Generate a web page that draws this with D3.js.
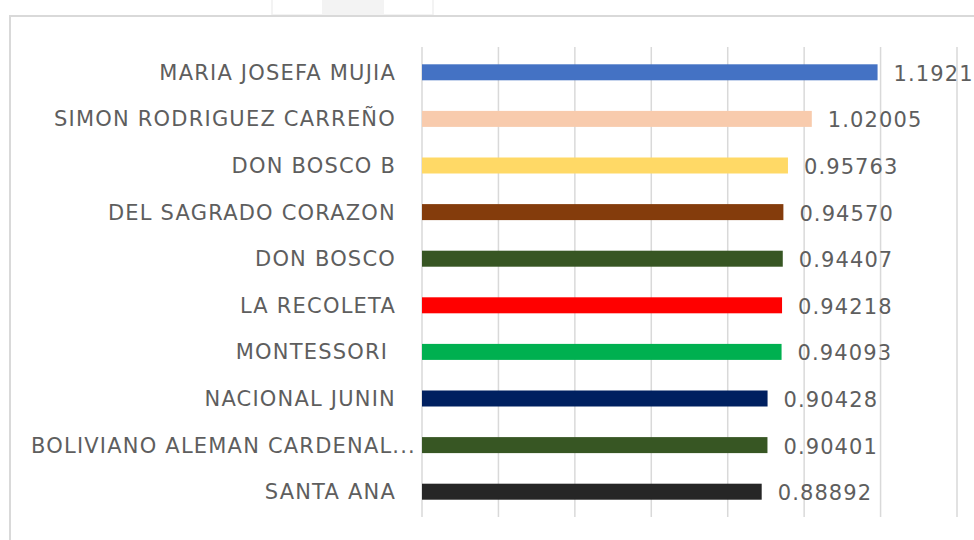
<!DOCTYPE html>
<html>
<head>
<meta charset="utf-8">
<script src="https://cdn.jsdelivr.net/npm/d3@7/dist/d3.min.js"></script>
<style>
  html, body { margin: 0; padding: 0; background: #fff; }
  svg { display: block; }
  text { font-family: "DejaVu Sans", "Liberation Sans", sans-serif; white-space: pre; }
</style>
</head>
<body>
<div class="js-chart"></div>
<script>
const WIDTH = 974;
const HEIGHT = 540;
const BAR_HEIGHT = 16;

// data
const schools = [
    "MARIA JOSEFA MUJIA",
    "SIMON RODRIGUEZ CARREÑO",
    "DON BOSCO B",
    "DEL SAGRADO CORAZON",
    "DON BOSCO",
    "LA RECOLETA",
    "MONTESSORI ",
    "NACIONAL JUNIN",
    "BOLIVIANO ALEMAN CARDENAL...",
    "SANTA ANA"
];
const scores = [1.19213, 1.02005, 0.95763, 0.94570, 0.94407, 0.94218, 0.94093, 0.90428, 0.90401, 0.88892];
const barColors = ["#4472c4", "#f8cbad", "#ffd966", "#843c0c", "#375623", "#ff0000", "#00b050", "#002060", "#375623", "#262626"];
const xTicks = [0, 0.2, 0.4, 0.6, 0.8, 1.0, 1.2, 1.4];

let rows = schools.map((name, i) => ({ name, value: scores[i], color: barColors[i] }));

let svg = d3.select('.js-chart').append('svg')
    .attr('width', WIDTH)
    .attr('height', HEIGHT);

// faint artefact above the frame (part of the original screenshot)
svg.append('rect')
    .attr('x', 272).attr('y', -2).attr('width', 161).attr('height', 17)
    .attr('fill', '#fff').attr('stroke', '#efefef').attr('stroke-width', 1.5);
svg.append('rect')
    .attr('x', 322).attr('y', -2).attr('width', 62).attr('height', 16)
    .attr('fill', '#f3f3f3');

// chart frame
svg.append('rect')
    .attr('x', 10).attr('y', 16).attr('width', 1000).attr('height', 560)
    .attr('fill', '#fff').attr('stroke', '#d9d9d9').attr('stroke-width', 2);

let x = d3.scaleLinear().domain([0, 1.4]).range([422, 957]);
let y = d3.scaleBand().domain(schools).range([49, 515]);

// vertical gridlines
svg.append('g')
    .selectAll('line')
    .data(xTicks)
    .enter()
    .append('line')
    .attr('x1', (d) => x(d))
    .attr('x2', (d) => x(d))
    .attr('y1', 47)
    .attr('y2', 517)
    .attr('stroke', '#d9d9d9')
    .attr('stroke-width', 1.5);

// bars
svg.append('g')
    .selectAll('rect')
    .data(rows)
    .enter()
    .append('rect')
    .attr('x', x(0))
    .attr('y', (d) => y(d.name) + (y.bandwidth() - BAR_HEIGHT) / 2)
    .attr('width', (d) => x(d.value) - x(0))
    .attr('height', BAR_HEIGHT)
    .attr('fill', (d) => d.color);

// category labels (Excel lets the truncated one run a bit further right)
svg.append('g')
    .selectAll('text')
    .data(rows)
    .enter()
    .append('text')
    .attr('x', (d) => d.name.endsWith('...') ? 416 : 396)
    .attr('y', (d) => y(d.name) + y.bandwidth() / 2)
    .attr('dy', '0.36em')
    .attr('text-anchor', 'end')
    .attr('font-size', 21)
    .attr('letter-spacing', 1.2)
    .attr('fill', '#5e5e5e')
    .text((d) => d.name);

// value labels
svg.append('g')
    .selectAll('text')
    .data(rows)
    .enter()
    .append('text')
    .attr('x', (d) => x(d.value) + 16)
    .attr('y', (d) => y(d.name) + y.bandwidth() / 2)
    .attr('dy', '0.4em')
    .attr('font-size', 21)
    .attr('letter-spacing', 1.1)
    .attr('fill', '#5e5e5e')
    .text((d) => d3.format('.5f')(d.value));
</script>
</body>
</html>
